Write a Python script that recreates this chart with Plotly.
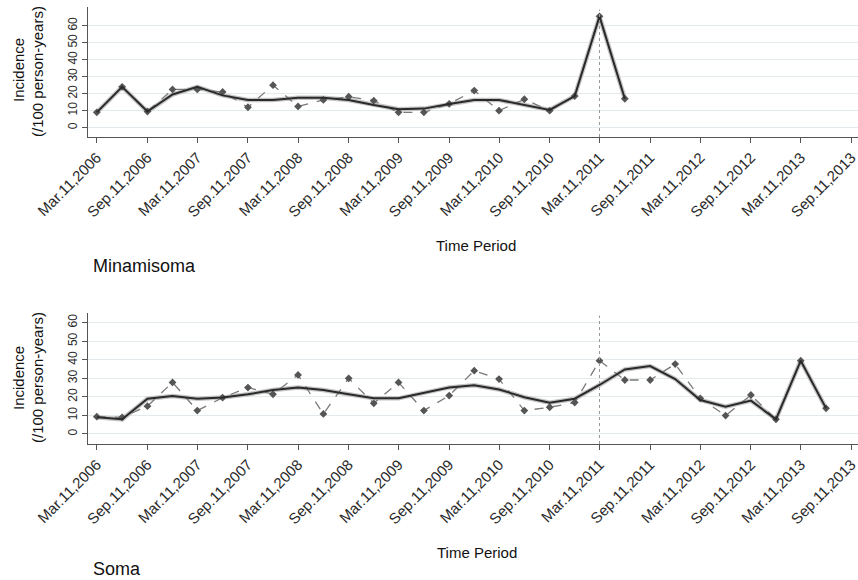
import plotly.graph_objects as go

# ---------------- data ----------------
quarters = [
    "2006-03-11", "2006-06-11", "2006-09-11", "2006-12-11",
    "2007-03-11", "2007-06-11", "2007-09-11", "2007-12-11",
    "2008-03-11", "2008-06-11", "2008-09-11", "2008-12-11",
    "2009-03-11", "2009-06-11", "2009-09-11", "2009-12-11",
    "2010-03-11", "2010-06-11", "2010-09-11", "2010-12-11",
    "2011-03-11", "2011-06-11", "2011-09-11", "2011-12-11",
    "2012-03-11", "2012-06-11", "2012-09-11", "2012-12-11",
    "2013-03-11", "2013-06-11",
]

tick_dates = [
    "2006-03-11", "2006-09-11", "2007-03-11", "2007-09-11",
    "2008-03-11", "2008-09-11", "2009-03-11", "2009-09-11",
    "2010-03-11", "2010-09-11", "2011-03-11", "2011-09-11",
    "2012-03-11", "2012-09-11", "2013-03-11", "2013-09-11",
]
tick_labels = [
    "Mar.11,2006", "Sep.11,2006", "Mar.11,2007", "Sep.11,2007",
    "Mar.11,2008", "Sep.11,2008", "Mar.11,2009", "Sep.11,2009",
    "Mar.11,2010", "Sep.11,2010", "Mar.11,2011", "Sep.11,2011",
    "Mar.11,2012", "Sep.11,2012", "Mar.11,2013", "Sep.11,2013",
]

minamisoma_observed = [9, 24, 9.5, 22.5, 22.5, 21, 12, 25, 12.5, 16.3,
                       18.2, 15.9, 9, 9, 14, 21.8, 10, 16.7, 10, 18.6,
                       65.5, 17]
minamisoma_fitted = [9, 24, 9.5, 19.5, 24, 19, 16.3, 16.3, 17.6, 17.6,
                     16.3, 13.3, 10.8, 11.2, 13.9, 16.3, 16.3, 13.3, 10.4, 18.6,
                     65.5, 17]

soma_observed = [9.3, 9, 15, 27.8, 12.6, 19.6, 25, 21.4, 31.8, 10.8,
                 30, 16.5, 27.8, 12.6, 20.7, 34.1, 29.6, 12.6, 14.4, 16.9,
                 39.5, 29.1, 29.1, 37.7, 19.2, 9.9, 21, 7.9, 39.5, 13.8]
soma_fitted = [9, 7.9, 19, 20.5, 19, 19.6, 21.4, 23.7, 25, 23.7,
               21.4, 19.2, 19.2, 22, 25.1, 26.2, 24, 19.8, 16.9, 19,
               26.4, 34.8, 36.6, 29.6, 18.3, 14.7, 18, 7.9, 39.5, 13.8]

y_ticks = [0, 10, 20, 30, 40, 50, 60]
event_date = "2011-03-11"

# ---------------- figure ----------------
W, H = 858, 580
fig = go.Figure()

def add_series(obs, fit, xa, ya):
    n = len(obs)
    fig.add_trace(go.Scatter(
        x=quarters[:n], y=fit, xaxis=xa, yaxis=ya, mode="lines",
        line=dict(color="#c4c4c4", width=4.5),
        showlegend=False, hoverinfo="skip"))
    fig.add_trace(go.Scatter(
        x=quarters[:n], y=obs, xaxis=xa, yaxis=ya, mode="lines+markers",
        line=dict(color="#7a7a7a", width=1.3, dash="dash"),
        marker=dict(symbol="diamond", size=6, color="#555555"),
        showlegend=False, hoverinfo="skip"))
    fig.add_trace(go.Scatter(
        x=quarters[:n], y=fit, xaxis=xa, yaxis=ya, mode="lines",
        line=dict(color="#2a2a2a", width=2),
        showlegend=False, hoverinfo="skip"))

add_series(minamisoma_observed, minamisoma_fitted, "x", "y")
add_series(soma_observed, soma_fitted, "x2", "y2")

x_left = 88 / W
xrange = ["2006-02-07", "2013-10-05"]

common_x = dict(
    type="date", range=xrange, domain=[x_left, 1], automargin=False,
    tickmode="array", tickvals=tick_dates, ticktext=tick_labels,
    tickangle=-45, ticks="outside", ticklen=5, tickcolor="#555",
    ticklabeloverflow="allow",
    tickfont=dict(family="Liberation Sans, Arial", size=15, color="#2a2a2a"),
    showline=True, linecolor="#555", linewidth=1,
    showgrid=False, zeroline=False,
)
common_y = dict(
    tickmode="array", tickvals=y_ticks, tickangle=-90, automargin=False,
    ticks="outside", ticklen=5, tickcolor="#555",
    tickfont=dict(family="Liberation Sans, Arial", size=12, color="#2a2a2a"),
    showline=True, linecolor="#555", linewidth=1,
    showgrid=True, gridcolor="#e2eaee", gridwidth=1.2, zeroline=False,
)

fig.update_layout(
    width=W, height=H,
    margin=dict(l=0, r=0, t=0, b=0, autoexpand=False),
    paper_bgcolor="white", plot_bgcolor="white",
    xaxis=dict(common_x, anchor="y"),
    yaxis=dict(common_y, anchor="x", range=[-5.5, 71],
               domain=[1 - 137 / H, 1 - 7 / H]),
    xaxis2=dict(common_x, anchor="y2"),
    yaxis2=dict(common_y, anchor="x2", range=[-5.4, 65.2],
                domain=[1 - 444 / H, 1 - 313 / H]),
)

# vertical dotted line at the earthquake date
for xr, yr in (("x", "y"), ("x2", "y2")):
    fig.add_shape(type="line", xref=xr, yref=f"{yr} domain",
                  x0=event_date, x1=event_date, y0=0, y1=0.98,
                  line=dict(color="#999999", width=1, dash="dot"))

font_main = "Liberation Sans, Arial"

def ann(text, x, y, size, xanchor="center", angle=0):
    fig.add_annotation(text=text, x=x / W, y=1 - y / H, xref="paper", yref="paper",
                       showarrow=False, xanchor=xanchor, yanchor="middle",
                       textangle=angle,
                       font=dict(family=font_main, size=size, color="#111"))

# y-axis titles
ann("Incidence", 18, 70, 15, angle=-90)
ann("(/100 person-years)", 37, 72, 15, angle=-90)
ann("Incidence", 18, 378, 15, angle=-90)
ann("(/100 person-years)", 37, 378, 15, angle=-90)

# x-axis titles
ann("Time Period", 476, 245, 15)
ann("Time Period", 477, 552, 15)

# panel labels
ann("Minamisoma", 91, 266, 18, xanchor="left")
ann("Soma", 91, 569, 18, xanchor="left")

fig.write_html("out.html", config={"displayModeBar": False},
               post_script="document.body.style.margin='0';document.body.style.overflow='hidden';")
